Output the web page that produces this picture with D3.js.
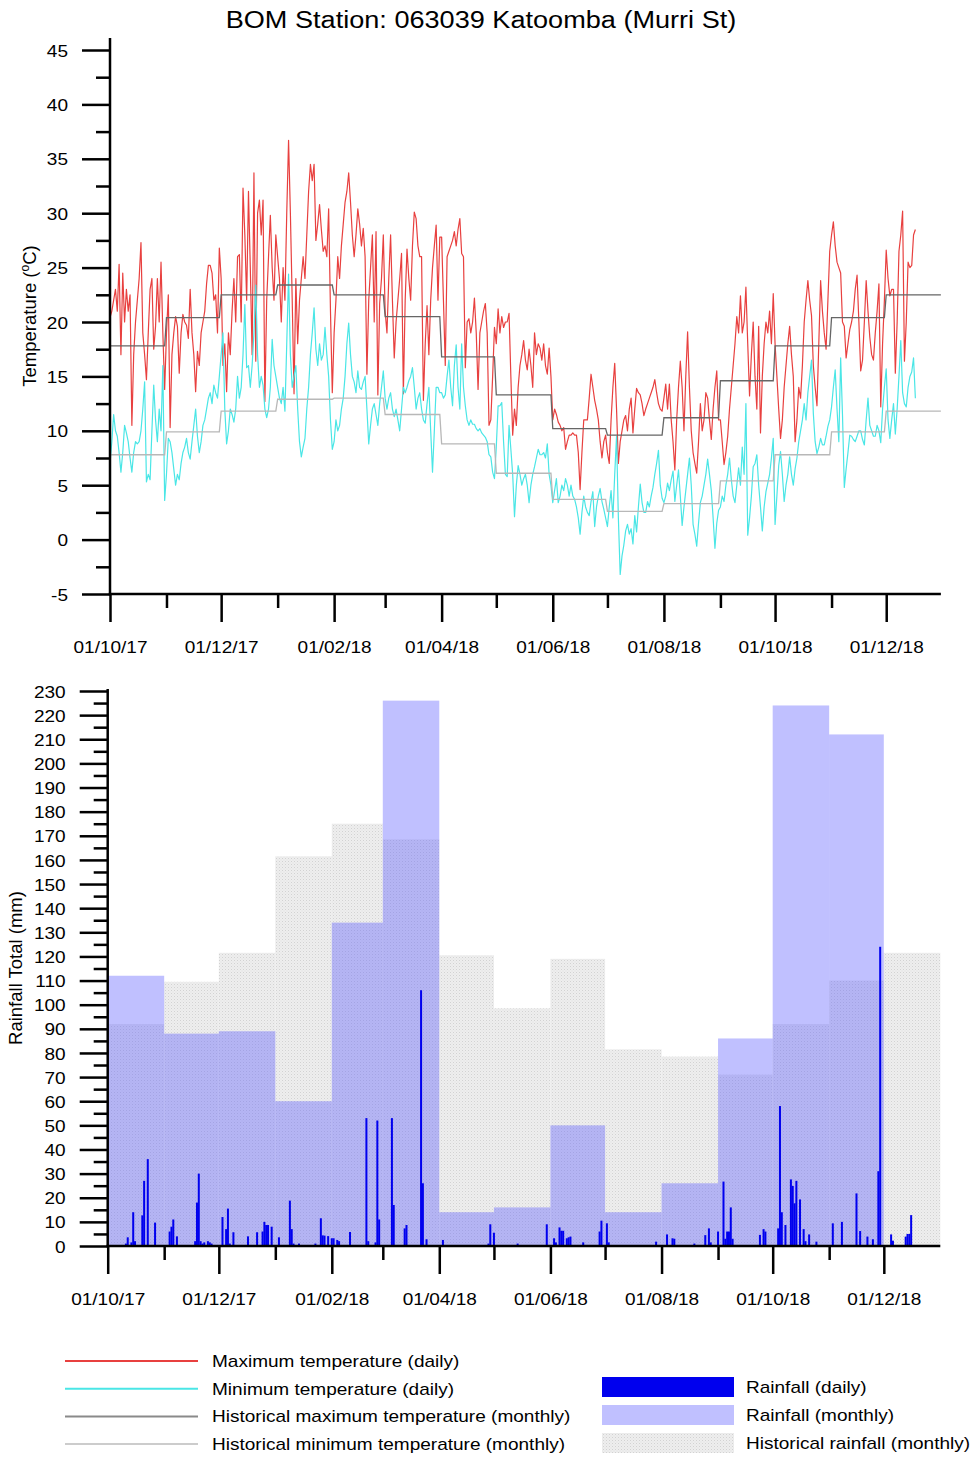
<!DOCTYPE html>
<html><head><meta charset="utf-8">
<script src="https://cdn.jsdelivr.net/npm/d3@7"></script>
<style>
body{margin:0;background:#fff}
svg{display:block}
text{font-family:'Liberation Sans',Arial,sans-serif;fill:#000}
</style>
</head><body>
<svg id="c" width="975" height="1457"></svg>
<script>
// ---------------- DATA ----------------
const chartTitle = "BOM Station: 063039 Katoomba (Murri St)";
const months = ["2017-10","2017-11","2017-12","2018-01","2018-02","2018-03","2018-04","2018-05","2018-06","2018-07","2018-08","2018-09","2018-10","2018-11","2018-12"];
const histMaxTemp = [17.8,20.4,22.5,23.4,22.5,20.5,16.8,13.3,10.2,9.6,11.2,14.6,17.8,20.4,22.5];
const histMinTemp = [7.8,9.9,11.8,12.9,13.0,11.5,8.8,6.1,3.7,2.6,3.3,5.4,7.8,9.9,11.8];
const rainMonthly = [112,88,89,60,134,226,14,16,50,14,26,86,224,212,null];
const histRainMonthly = [92,109.5,121.5,161.5,175,168.5,120.5,98.5,119,81.5,78.5,71,92,110,121.5];

const dailyStart = "2017-10-01";
const maxTemp = [
 // Oct 17
 20.4,21,22,23,21,25.3,17,24.5,20,23,21,22.5,10.5,17,20,22,24,27.3,19,17,14.7,19,23,24,17.5,19.6,24,20,25.5,19,13.8,
 // Nov 17
 19,22.5,10.3,17,19,20.5,19.6,15.3,19,20.7,20,19.7,18.5,23,19,17,13.6,17.3,16,19,20,21,23.5,25.2,25.2,24.5,22,22.5,19,26.8,
 // Dec 17
 24,16,18,13.6,19,17,21,24,20,26,26.2,20,32.3,28,22,32,25,17,33.7,16.4,30,31.2,28,31.2,12.7,22,26,29.8,25,22,28,
 // Jan 18
 26,24,20,25,22,30,36.7,30,22,13.4,24,18,22,24,26,24,28,32,34.5,33,34.5,27.5,29,30.8,28.5,26.5,27,26,30.4,21,13.5,
 // Feb 18
 19,22,26,24,27,29,31,32,33.7,31,28,26,28,30.4,29,27,28.6,26,15.2,22,25,28,20,28.3,13.3,21.7,24,28,
 // Mar 18
 21,19,24,28,22,16.7,20,22,24,26.3,13.4,22,26.7,24,22,27,30.1,29.5,27,26,26,12.8,18,21.5,17,22,25,27,28.9,22,27.8,
 // Apr 18
 27.8,22,16,26,26.5,27,27.5,28.3,27,28.5,29.5,26.3,26,15.8,20,20.3,19,20,22.2,19,13.8,19,20,21,21.7,19,10.5,11,15,19.5,
 // May 18
 18,21.2,19,20.5,19.5,20,20,20.8,15,9.6,12,10.5,14,16,17,18.3,16.5,15.6,17.5,16,14,19,17,18,17.6,16.5,18,16,15.2,17.6,15,
 // Jun 18
 11,12,11.5,10.8,10.5,10,10.3,8.3,9,9.6,9.6,9.8,9.6,9.6,8,4.6,8,11,11,11,13,15.2,14,12.8,12,11,9,7.5,9,9.6,
 // Jul 18
 8,7,11,14,16.2,12,7,9,10,11,11.4,10,12,13,9.8,12,13.9,13.5,13.3,12.5,11.4,12,12.5,13,13.5,14,14.7,13.5,12.5,12,11.8,
 // Aug 18
 13,14.3,12,14.3,11,9,6.4,11,14,16.4,14,10,15,19.1,14,10,8,7,6.1,9,12.5,10,11,13.5,13,11,9.2,12,14,15.5,11,
 // Sep 18
 11,9,6.9,8,9.5,12,14,16,18,20.5,19,22.4,19,20,23.2,18,13.2,17,20,15,12,19.6,9.8,15,18,20,19,21,18,22.6,
 // Oct 18
 18,15,12,9.3,11,14,16,18,19.6,17,15,9,11,14,13,16,20,22,23.8,22,20.6,16,14,12.3,18,23.8,21,19,17.5,22,26.5,
 // Nov 18
 28,29.2,27,25.5,25,24.5,20,19.6,16.7,18,19.3,20,21,23,24.3,20,15.5,16.5,20,23.8,21,18.6,17,16.5,19,21,23.5,12.2,18,22,
 // Dec 18
 26.6,24,22.4,23,23,15.3,20,26.5,28,30.2,16.4,20,25.5,25,25.2,28,28.5
];
const minTemp = [
 // Oct 17
 7,9,11.5,10,9.5,8,6.2,8,10.5,9.8,9,7.5,6.2,8,9,8.8,9,10,12,14.5,5.3,6,5.5,10,14.2,11,9,12,10,16,3.6,
 // Nov 17
 6,9.3,9,8,6.5,5,6,5.5,7,8,8.5,9.3,8,7.4,9,10.5,12,9.5,8,9,10.5,11,12,13,13.5,12.5,14.2,13.5,13,15,
 // Dec 17
 17,19,12,8.8,10,12,11.5,10.8,12,15,13,14,17,21.6,15.8,16,14,16,19,23.4,17,14,15,14.2,12,11.2,12,14,18.4,16,15,
 // Jan 18
 14,13,12.5,14,11.8,18,24.4,17,14,15,16,12,9,7.6,8.5,9.3,12,14,17,19,21.3,17.5,16,18,16.5,17,19.5,17,15,11,8.3,
 // Feb 18
 9,11,10,10.5,12,13,15,18,19.9,17,15,14.5,13.5,15.5,14,13.8,14.5,15,12,8.8,10.5,12,12.5,11.5,10.5,12.5,14,15.5,
 // Mar 18
 13,12,13,13.5,12,11.3,12,11,10,12,14,13.5,14,14.6,15,15.8,14,12,13,13.5,12,11,10.7,12.5,14,10,6.2,10,14,14,13.5,
 // Apr 18
 13.5,13,13.3,15,16.5,14,12.3,16,17.9,14,12,18,14,12.3,11,10.5,11,10.6,10.6,10.2,10,10.2,9.8,9.6,9.4,9,7.8,7.6,6.2,5.6,
 // May 18
 8.5,12.3,12.3,12.6,9,6,5.8,10.5,8.3,6,2.1,5,6.8,6,5,5.6,6,5,3.4,5,6,6.7,7.5,8.3,7.8,7.8,8,7.5,8.8,6,5,
 // Jun 18
 3.4,4.5,5.6,3.4,4,5,4.5,5.6,5,4,5,4,3.7,3,2,0.5,2.5,4,3,2.5,2.2,3.5,4.4,1.2,3,4,4.7,3.5,2.8,2,
 // Jul 18
 1.2,3,4.5,2,6,9.5,2,-3.2,-1.5,-0.5,0.8,1.4,0.5,1,-0.4,2.2,0.7,3,5.1,3.4,2.5,2.5,3.5,3,4,4.8,6,7,8.2,5,3.8,
 // Aug 18
 3.4,4,5.2,4.5,5.5,6.3,3.5,5,6.4,4,1.3,3,4.5,6,7.5,5,1.4,0.5,-0.6,1.5,3.4,4,5,6,7.4,6,4.5,2,-0.8,1.5,2.7,
 // Sep 18
 3,4,3.5,5,6,7.5,5.5,4,3.4,5,6.6,5,8.5,6,12.5,0.4,2,4,6.7,7,7.8,5,3,0.8,3,4.4,5.2,6,7.5,9.3,
 // Oct 18
 1.4,4,6.8,8.1,6,3.5,5,6,7.6,6,5,6.5,7.5,9,10,11,12.5,11,13.5,15,16.5,11.6,9,7.9,8.5,9.3,8.7,8.7,9.5,10.4,11,
 // Nov 18
 12.2,14,15.6,12,9,16.7,11.5,4.8,6.5,8,9.6,9.5,9.2,9,9.5,10,10,9.2,8.7,11,13,10.5,10,9.5,9.5,10.5,10,8.9,12,14,
 // Dec 18
 15.7,11,9.3,11,12.5,9.7,12,15,18.3,13.5,12.5,12.2,14,15,15.4,16.7,13
];
// daily rainfall: day offset from dailyStart, and millimetres
const rainDay = [10,11,13,14,15,19,20,22,26,
 34,35,36,38,48,49,50,51,52,53,55,56,57,
 63,65,66,67,69,77,82,85,86,87,88,90,
 94,100,101,102,105,114,117,118,119,121,
 123,124,126,127,133,142,143,147,148,149,
 156,157,163,164,172,173,175,
 184,209,210,
 212,225,241,
 245,246,248,249,250,252,253,254,261,270,271,
 274,275,301,
 307,310,311,322,328,330,331,
 335,338,339,340,341,342,343,358,360,361,
 368,369,370,372,375,376,377,378,380,382,383,385,389,
 398,403,411,413,417,420,423,424,
 430,431,438,439,440,441];
const rainDaily = [1,3.6,1.5,14,2,12.7,27,36,9.7,
 6,8,11,4,2,18,30,2,1,1.5,2,1.5,1,
 12,7,15.5,1,5.7,4,5.7,6,10,8.7,8.7,8,
 3.6,18.8,7,1,1,1,11.5,4.4,4.3,4.1,
 3.2,3.2,2.5,2,5.8,53,2,1.5,52,11,
 53,17,7.3,8.7,106,26,2.8,
 2.5,1,9,
 5.5,1,9,
 3.2,1.5,7.7,6.3,6.3,3.2,3.6,3.9,1.5,6,10.5,
 9.4,1.5,1.8,
 4.8,3.2,3,1,4.5,7.3,1.5,
 6,26.7,3,6,6,16,3,4.6,7,6,
 7.3,58,14,8.7,27.6,24.9,17.7,27,19.3,7,2,4.8,1.8,
 9.4,10,21.8,6.2,3.9,2.8,31,124,
 4.8,2.2,3.9,5,5,12.8];

const tempTicks = [-5,0,5,10,15,20,25,30,35,40,45];
const tempMinorTicks = [-2.5,2.5,7.5,12.5,17.5,22.5,27.5,32.5,37.5,42.5];
const rainTicks = d3.range(0,231,10);
const rainMinorTicks = d3.range(5,230,10);

const legendLines = [
 {label:"Maximum temperature (daily)", color:"#e8403f"},
 {label:"Minimum temperature (daily)", color:"#4ae6e6"},
 {label:"Historical maximum temperature (monthly)", color:"#8a8a8a"},
 {label:"Historical minimum temperature (monthly)", color:"#cccccc"}
];
const legendBoxes = [
 {label:"Rainfall (daily)", fill:"#0000ee"},
 {label:"Rainfall (monthly)", fill:"#c0c0ff"},
 {label:"Historical rainfall (monthly)", fill:"url(#dots)"}
];

// ---------------- SETUP ----------------
const SX = 1.12;
const svg = d3.select("#c");
const parseDay = d3.utcParse("%Y-%m-%d");
const t0 = parseDay(dailyStart);
const monthStart = months.map(m => parseDay(m + "-01"));
const monthEnd = monthStart.map(d => d3.utcMonth.offset(d, 1));
const domainEnd = monthEnd[monthEnd.length - 1];
const fmt = d3.utcFormat("%d/%m/%y");
const majorMonths = monthStart.filter((d,i) => i % 2 === 0);
const minorMonths = monthStart.filter((d,i) => i % 2 === 1);

function stext(parent, x, y, str, size, anchor) {
  return parent.append("text")
    .attr("transform", `translate(${x},${y}) scale(${SX},1)`)
    .attr("text-anchor", anchor || "start")
    .attr("font-size", size)
    .text(str);
}

const defs = svg.append("defs");
const pat = defs.append("pattern").attr("id","dots").attr("width",3).attr("height",3).attr("patternUnits","userSpaceOnUse");
pat.append("rect").attr("width",3).attr("height",3).attr("fill","#eeeeee");
pat.append("rect").attr("width",1).attr("height",1).attr("fill","#d2d2d2");
pat.append("rect").attr("x",1.5).attr("y",1.5).attr("width",1).attr("height",1).attr("fill","#e0e0e0");

// ---------------- TOP CHART ----------------
const xT = d3.scaleUtc().domain([monthStart[0], domainEnd]).range([110, 942.7]);
const yT = d3.scaleLinear().domain([-5, 45]).range([594, 50]);

stext(svg, 481, 28, chartTitle, 24.2, "middle");

const gT = svg.append("g");
const dayX = i => d3.utcDay.offset(t0, i);

gT.append("path").datum(maxTemp)
  .attr("fill","none").attr("stroke","#e8403f").attr("stroke-width",1.2).attr("stroke-linejoin","round")
  .attr("d", d3.line().x((v,i)=>xT(dayX(i))).y(v=>yT(v)));
gT.append("path").datum(minTemp)
  .attr("fill","none").attr("stroke","#4ae6e6").attr("stroke-width",1.2).attr("stroke-linejoin","round")
  .attr("d", d3.line().x((v,i)=>xT(dayX(i))).y(v=>yT(v)));

function stepPoints(vals) {
  return vals.flatMap((v,i) => [[monthStart[i], v], [d3.utcDay.offset(monthEnd[i], -1), v]]);
}
const stepLine = d3.line().x(p=>xT(p[0])).y(p=>yT(p[1]));
gT.append("path").datum(stepPoints(histMinTemp))
  .attr("fill","none").attr("stroke","#b8b8b8").attr("stroke-width",1.3).attr("d", stepLine);
gT.append("path").datum(stepPoints(histMaxTemp))
  .attr("fill","none").attr("stroke","#666").attr("stroke-width",1.3).attr("d", stepLine);

// axes
function styleAxis(g) {
  g.select(".domain").remove();
  g.selectAll(".tick line").attr("stroke","#000").attr("stroke-width",2.5);
}
const x0T = xT.range()[0];
const yAxT = svg.append("g").attr("transform",`translate(${x0T},0)`);
yAxT.call(d3.axisLeft(yT).tickValues(tempTicks).tickSize(28).tickFormat(d=>String(d)))
  .call(styleAxis)
  .call(g=>g.selectAll(".tick text").attr("x",null).attr("dy","0.36em")
     .attr("font-size",17).attr("font-family",null)
     .attr("transform",`translate(-42,0) scale(${SX},1)`));
svg.append("g").attr("transform",`translate(${x0T},0)`)
  .call(d3.axisLeft(yT).tickValues(tempMinorTicks).tickSize(14).tickFormat(""))
  .call(styleAxis);
svg.append("line").attr("x1",x0T).attr("x2",x0T).attr("y1",yT(46.1)).attr("y2",yT(-5)+1.2)
  .attr("stroke","#000").attr("stroke-width",2.5);

const xAxT = svg.append("g").attr("transform",`translate(0,${yT(-5)})`);
xAxT.call(d3.axisBottom(xT).tickValues(majorMonths).tickSize(28).tickFormat(fmt))
  .call(styleAxis)
  .call(g=>g.selectAll(".tick text").attr("y",null).attr("dy",null)
     .attr("font-size",17).attr("font-family",null)
     .attr("transform",`translate(0,59) scale(${SX},1)`));
svg.append("g").attr("transform",`translate(0,${yT(-5)})`)
  .call(d3.axisBottom(xT).tickValues(minorMonths).tickSize(14).tickFormat(""))
  .call(styleAxis);
svg.append("line").attr("x1",x0T-1.2).attr("x2",xT(d3.utcDay.offset(domainEnd,-0.5))).attr("y1",yT(-5)).attr("y2",yT(-5))
  .attr("stroke","#000").attr("stroke-width",2.5);

const tl = svg.append("text").attr("transform","translate(36,316) rotate(-90)")
  .attr("text-anchor","middle").attr("font-size",18.5);
tl.append("tspan").text("Temperature (");
tl.append("tspan").attr("font-size",12).attr("dy",-7).text("o");
tl.append("tspan").attr("dy",7).text("C)");

// ---------------- BOTTOM CHART ----------------
const xB = d3.scaleUtc().domain([monthStart[0], domainEnd]).range([107.7, 940.3]);
const yB = d3.scaleLinear().domain([0, 230]).range([1246, 691]);
const gB = svg.append("g");

gB.selectAll("rect.hist").data(histRainMonthly).join("rect").attr("class","hist")
  .attr("x",(v,i)=>xB(monthStart[i])).attr("width",(v,i)=>xB(monthEnd[i])-xB(monthStart[i]))
  .attr("y",v=>yB(v)).attr("height",v=>yB(0)-yB(v)).attr("fill","url(#dots)");

gB.selectAll("rect.mon").data(rainMonthly.map((v,i)=>({v,i})).filter(d=>d.v!=null)).join("rect").attr("class","mon")
  .attr("x",d=>xB(monthStart[d.i])).attr("width",d=>xB(monthEnd[d.i])-xB(monthStart[d.i]))
  .attr("y",d=>yB(d.v)).attr("height",d=>yB(0)-yB(d.v))
  .attr("fill","rgb(90,90,255)").attr("fill-opacity",0.38);

gB.selectAll("rect.day").data(rainDaily).join("rect").attr("class","day")
  .attr("x",(v,i)=>xB(dayX(rainDay[i]))-1).attr("width",2)
  .attr("y",v=>yB(v)).attr("height",v=>yB(0)-yB(v)).attr("fill","#0000ee");

const x0B = xB.range()[0];
svg.append("g").attr("transform",`translate(${x0B},0)`)
  .call(d3.axisLeft(yB).tickValues(rainTicks).tickSize(28).tickFormat(d=>String(d)))
  .call(styleAxis)
  .call(g=>g.selectAll(".tick text").attr("x",null).attr("dy","0.36em")
     .attr("font-size",17).attr("font-family",null)
     .attr("transform",`translate(-42,0) scale(${SX},1)`));
svg.append("g").attr("transform",`translate(${x0B},0)`)
  .call(d3.axisLeft(yB).tickValues(rainMinorTicks).tickSize(14).tickFormat(""))
  .call(styleAxis);
svg.append("line").attr("x1",x0B).attr("x2",x0B).attr("y1",yB(230)-2).attr("y2",yB(0)+1.2)
  .attr("stroke","#000").attr("stroke-width",2.5);

svg.append("g").attr("transform",`translate(0,${yB(0)})`)
  .call(d3.axisBottom(xB).tickValues(majorMonths).tickSize(28).tickFormat(fmt))
  .call(styleAxis)
  .call(g=>g.selectAll(".tick text").attr("y",null).attr("dy",null)
     .attr("font-size",17).attr("font-family",null)
     .attr("transform",`translate(0,59) scale(${SX},1)`));
svg.append("g").attr("transform",`translate(0,${yB(0)})`)
  .call(d3.axisBottom(xB).tickValues(minorMonths).tickSize(14).tickFormat(""))
  .call(styleAxis);
svg.append("line").attr("x1",x0B-1.2).attr("x2",xB(domainEnd)).attr("y1",yB(0)).attr("y2",yB(0))
  .attr("stroke","#000").attr("stroke-width",2.5);

svg.append("text").attr("transform","translate(22,968) rotate(-90)")
  .attr("text-anchor","middle").attr("font-size",18.5).text("Rainfall Total (mm)");

// ---------------- LEGEND ----------------
const lg = svg.append("g");
legendLines.forEach((d,i) => {
  const y = 1361 + i*27.7;
  lg.append("line").attr("x1",65).attr("x2",198).attr("y1",y).attr("y2",y)
    .attr("stroke",d.color).attr("stroke-width",2);
  stext(lg, 212, y+6, d.label, 17, "start");
});
legendBoxes.forEach((d,i) => {
  const y = 1377 + i*28;
  lg.append("rect").attr("x",602).attr("y",y).attr("width",132).attr("height",20).attr("fill",d.fill);
  stext(lg, 746, y+16, d.label, 17, "start");
});
</script>
</body></html>
